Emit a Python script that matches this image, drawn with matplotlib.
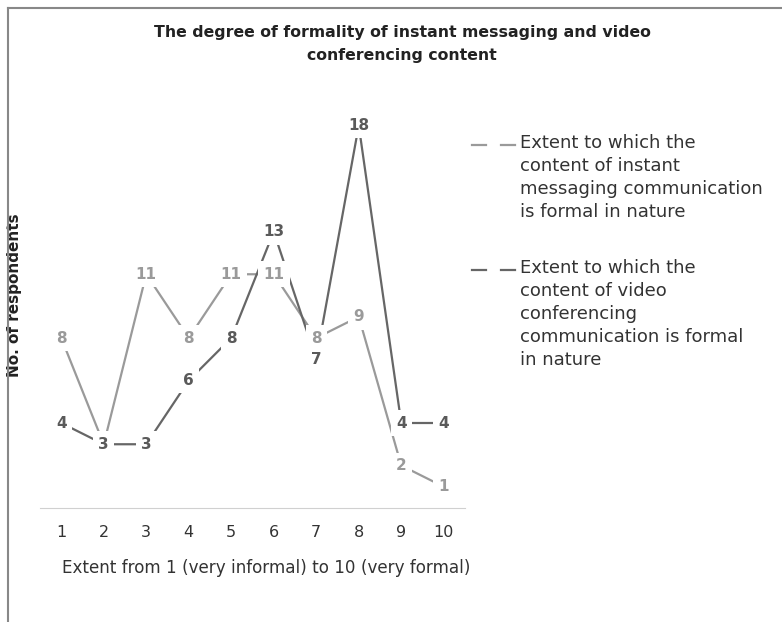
import matplotlib.pyplot as plt
import matplotlib
from matplotlib.lines import Line2D

extent = [1, 2, 3, 4, 5, 6, 7, 8, 9, 10]
instant_messaging = [8, 3, 11, 8, 11, 11, 8, 9, 2, 1]
video_conferencing = [4, 3, 3, 6, 8, 13, 7, 18, 4, 4]

im_label = "Extent to which the\ncontent of instant\nmessaging communication\nis formal in nature"
vc_label = "Extent to which the\ncontent of video\nconferencing\ncommunication is formal\nin nature"

matplotlib.rcParams.update({'font.size': 11, 'font.family': ['DejaVu Sans']})
light = '#9a9a9a'
dark = '#666666'
W, H = 782.0, 622.0

fig = plt.figure(figsize=(7.82, 6.22), dpi=100)
ax = fig.add_axes([40 / W, 1 - 508 / H, 425 / W, 425 / H])

ax.plot(extent, instant_messaging, color=light, lw=1.6, zorder=2)
ax.plot(extent, video_conferencing, color=dark, lw=1.6, zorder=3)

for x, y in zip(extent, instant_messaging):
    ax.text(x, y, str(y), color=light, fontsize=11, fontweight='bold', ha='center', va='center',
            zorder=4, bbox=dict(boxstyle='square,pad=0.35', fc='white', ec='none'))
for x, y in zip(extent, video_conferencing):
    ax.text(x, y, str(y), color='#5a5a5a', fontsize=11, fontweight='bold', ha='center', va='center',
            zorder=5, bbox=dict(boxstyle='square,pad=0.35', fc='white', ec='none'))

ax.set_xlim(0.5, 10.5)
ax.set_ylim(0, 20)
ax.set_xticks(extent)
ax.set_yticks([])
for s in ['top', 'right', 'left']:
    ax.spines[s].set_visible(False)
ax.spines['bottom'].set_color('#d0d0d0')
ax.tick_params(axis='x', length=0, pad=12, labelsize=11.5, colors='#333333')
ax.set_xlabel("Extent from 1 (very informal) to 10 (very formal)", fontsize=12.1, color='#333333')
ax.xaxis.set_label_coords(226 / 425, -51 / 425)
ax.set_ylabel("No. of respondents", fontsize=11, fontweight='bold', color='#222222')
ax.yaxis.set_label_coords(-18 / 425, 0.5)

fig.text(402 / W, 1 - 44 / H, "The degree of formality of instant messaging and video\nconferencing content",
         ha='center', va='center', fontsize=11.3, fontweight='bold', color='#222222', linespacing=1.6)

# legend drawn by hand so the keys sit on the first text line
entries = [(im_label, light, 145), (vc_label, dark, 270)]
for label, color, ypx in entries:
    yf = 1 - ypx / H
    fig.add_artist(Line2D([472 / W, 486 / W], [yf, yf], color=color, lw=1.6))
    fig.add_artist(Line2D([501 / W, 515 / W], [yf, yf], color=color, lw=1.6))
    fig.text(520 / W, 1 - (ypx - 11) / H, label, ha='left', va='top', fontsize=13,
             color='#333333', linespacing=1.36)

# outer frame (top and left edges)
fig.add_artist(Line2D([8 / W, 1.0], [1 - 8 / H, 1 - 8 / H], color='#888888', lw=1.5))
fig.add_artist(Line2D([8 / W, 8 / W], [0.0, 1 - 8 / H], color='#888888', lw=1.5))

plt.savefig("out.png")
